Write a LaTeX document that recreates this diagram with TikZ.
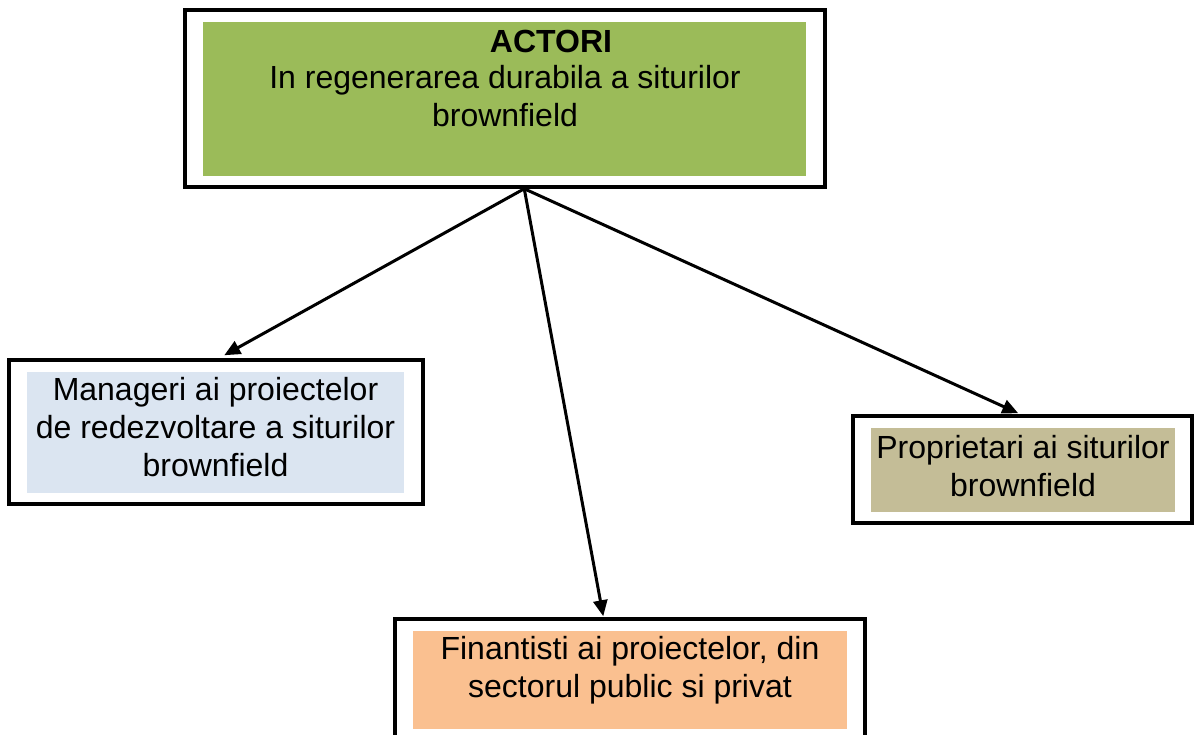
\documentclass[tikz,border=0pt]{standalone}
\usepackage{fontspec}
\setmainfont{Liberation Sans}
\usetikzlibrary{arrows.meta,calc}
\definecolor{cgreen}{HTML}{9BBB59}
\definecolor{cblue}{HTML}{DBE5F1}
\definecolor{ctan}{HTML}{C4BD97}
\definecolor{corange}{HTML}{FAC090}
\begin{document}
\begin{tikzpicture}[x=1pt,y=-1pt,
  outerbox/.style={draw=black,line width=3.5pt,rectangle,inner sep=0pt,fill=white},
  fillbox/.style={rectangle,inner sep=0pt,draw=none},
  label/.style={align=center,inner sep=0pt,font=\fontsize{32}{38}\selectfont},
  arr/.style={line width=3pt,-{Triangle[length=16pt,width=14pt]}}]
\useasboundingbox (0,0) rectangle (1197,735);
\clip (0,0) rectangle (1197,735);
\fill[white] (0,0) rectangle (1197,735);
% top box
\node[outerbox,minimum width=640pt,minimum height=177pt] (top) at (505,98.5) {};
\node[fillbox,fill=cgreen,minimum width=603pt,minimum height=154pt] (topin) at (504.5,99) {};
\node[label,font=\fontsize{32}{38}\selectfont\bfseries] (topt1) at (551,41) {ACTORI};
\node[label] (topt2) at (505,96.5) {In regenerarea durabila a siturilor\\brownfield};
% left box
\node[outerbox,minimum width=414pt,minimum height=144pt] (left) at (216,432) {};
\node[fillbox,fill=cblue,minimum width=377pt,minimum height=121pt] (leftin) at (215.5,432.5) {};
\node[label] (leftt) at (215.5,427) {Manageri ai proiectelor\\de redezvoltare a siturilor\\brownfield};
% right box
\node[outerbox,minimum width=339pt,minimum height=107pt] (right) at (1022.5,469.5) {};
\node[fillbox,fill=ctan,minimum width=304pt,minimum height=84pt] (rightin) at (1023,470) {};
\node[label] (rightt) at (1023,466) {Proprietari ai siturilor\\brownfield};
% bottom box
\node[outerbox,minimum width=470pt,minimum height=130pt] (bot) at (630,684) {};
\node[fillbox,fill=corange,minimum width=434pt,minimum height=98pt] (botin) at (630,680) {};
\node[label] (bott) at (630,670) {Finantisti ai proiectelor, din\\sectorul public si privat};
% connectors
\coordinate (o) at ($(top.south west)+(341,0)$);
\coordinate (el) at ($(left.north west)+(217,-3)$);
\coordinate (er) at ($(right.north west)+(167,-1)$);
\coordinate (eb) at ($(bot.north west)+(210,-1)$);
\draw[arr] (o) -- (el);
\draw[arr] (o) -- (er);
\draw[arr] (o) -- (eb);
\end{tikzpicture}
\end{document}
